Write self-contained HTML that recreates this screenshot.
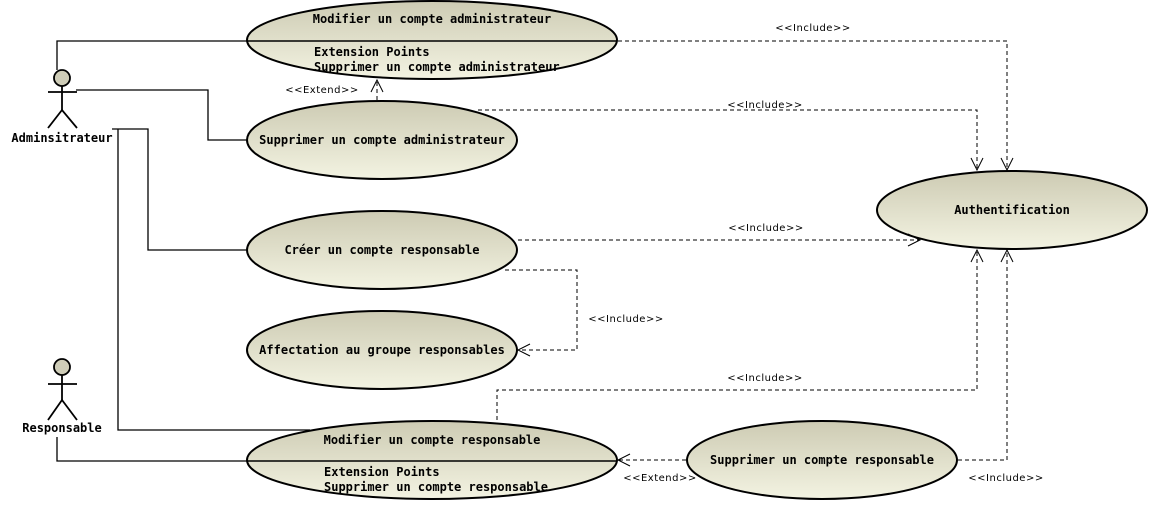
<!DOCTYPE html>
<html><head><meta charset="utf-8"><style>
html,body{margin:0;padding:0;background:#fff;width:1153px;height:505px;overflow:hidden}
.t{font-family:"DejaVu Sans Mono","Liberation Mono",monospace;font-size:12px;font-weight:bold;fill:#000}
.l{font-family:"DejaVu Sans","Liberation Sans",sans-serif;font-size:10px;fill:#000;letter-spacing:0.5px}
</style></head><body>
<svg width="1153" height="505" viewBox="0 0 1153 505" xmlns="http://www.w3.org/2000/svg">
<defs>
<linearGradient id="g" x1="0" y1="0" x2="0" y2="1">
<stop offset="0" stop-color="#cdcbb3"/><stop offset="1" stop-color="#f3f3e2"/>
</linearGradient>
</defs>
<g fill="none" stroke="#000" stroke-width="1.3">
<polyline points="57,70 57,41 247,41"/>
<polyline points="76,90 208,90 208,140 247,140"/>
<polyline points="112,129 148,129 148,250 247,250"/>
<polyline points="118,129 118,430 310,430"/>
<polyline points="57,437 57,461 247,461"/>
</g>
<g fill="none" stroke="#000" stroke-width="1" stroke-dasharray="4,3">
<polyline points="618,41 1007,41 1007,170"/>
<polyline points="478,110 977,110 977,170"/>
<line x1="377" y1="100" x2="377" y2="81"/>
<line x1="518" y1="240" x2="920" y2="240"/>
<polyline points="505,270 577,270 577,350 519,350"/>
<polyline points="497,420 497,390 977,390 977,251"/>
<polyline points="958,460 1007,460 1007,251"/>
<line x1="686" y1="460" x2="619" y2="460"/>
</g>
<g fill="url(#g)" stroke="#000" stroke-width="2">
<ellipse cx="432" cy="40" rx="185" ry="39"/>
<ellipse cx="382" cy="140" rx="135" ry="39"/>
<ellipse cx="1012" cy="210" rx="135" ry="39"/>
<ellipse cx="382" cy="250" rx="135" ry="39"/>
<ellipse cx="382" cy="350" rx="135" ry="39"/>
<ellipse cx="432" cy="460" rx="185" ry="39"/>
<ellipse cx="822" cy="460" rx="135" ry="39"/>
</g>
<g stroke="#000" stroke-width="1.5">
<line x1="247" y1="41" x2="617" y2="41"/>
<line x1="247" y1="461" x2="617" y2="461"/>
</g>
<g fill="none" stroke="#000" stroke-width="1">
<polyline points="1001,158 1007,170 1013,158"/>
<polyline points="971,158 977,170 983,158"/>
<polyline points="371,92 377,80 383,92"/>
<polyline points="908,234 920,240 908,246"/>
<polyline points="530,344 518,350 530,356"/>
<polyline points="971,262 977,250 983,262"/>
<polyline points="1001,262 1007,250 1013,262"/>
<polyline points="630,454 618,460 630,466"/>
</g>
<g fill="none" stroke="#000" stroke-width="1.8">
<circle cx="62" cy="78" r="8" fill="#cfcdb8"/>
<line x1="62" y1="86" x2="62" y2="110"/>
<line x1="48" y1="92" x2="77" y2="92"/>
<polyline points="48,128 62,110 77,128"/>
<circle cx="62" cy="367" r="8" fill="#cfcdb8"/>
<line x1="62" y1="375" x2="62" y2="400"/>
<line x1="48" y1="384" x2="77" y2="384"/>
<polyline points="48,420 62,400 77,420"/>
</g>
<text class="t" x="62" y="142" text-anchor="middle">Adminsitrateur</text>
<text class="t" x="62" y="432" text-anchor="middle">Responsable</text>
<text class="t" x="432" y="23" text-anchor="middle">Modifier un compte administrateur</text>
<text class="t" x="314" y="56">Extension Points</text>
<text class="t" x="314" y="71">Supprimer un compte administrateur</text>
<text class="t" x="382" y="144" text-anchor="middle">Supprimer un compte administrateur</text>
<text class="t" x="1012" y="214" text-anchor="middle">Authentification</text>
<text class="t" x="382" y="254" text-anchor="middle">Créer un compte responsable</text>
<text class="t" x="382" y="354" text-anchor="middle">Affectation au groupe responsables</text>
<text class="t" x="432" y="444" text-anchor="middle">Modifier un compte responsable</text>
<text class="t" x="324" y="476">Extension Points</text>
<text class="t" x="324" y="491">Supprimer un compte responsable</text>
<text class="t" x="822" y="464" text-anchor="middle">Supprimer un compte responsable</text>
<text class="l" x="813" y="31" text-anchor="middle">&lt;&lt;Include&gt;&gt;</text>
<text class="l" x="765" y="108" text-anchor="middle">&lt;&lt;Include&gt;&gt;</text>
<text class="l" x="322" y="93" text-anchor="middle">&lt;&lt;Extend&gt;&gt;</text>
<text class="l" x="766" y="231" text-anchor="middle">&lt;&lt;Include&gt;&gt;</text>
<text class="l" x="626" y="322" text-anchor="middle">&lt;&lt;Include&gt;&gt;</text>
<text class="l" x="765" y="381" text-anchor="middle">&lt;&lt;Include&gt;&gt;</text>
<text class="l" x="660" y="481" text-anchor="middle">&lt;&lt;Extend&gt;&gt;</text>
<text class="l" x="1006" y="481" text-anchor="middle">&lt;&lt;Include&gt;&gt;</text>
</svg>
</body></html>
